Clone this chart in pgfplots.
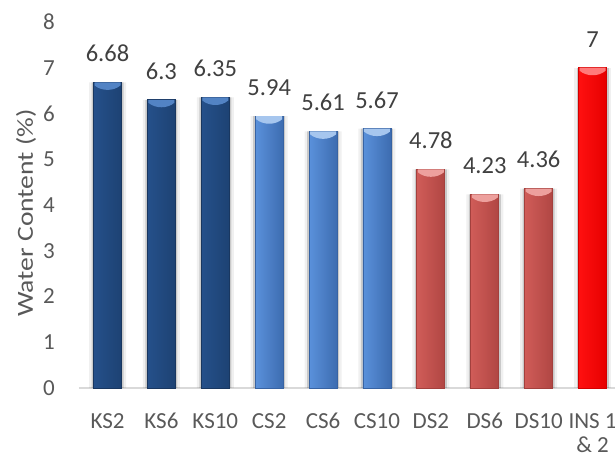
\documentclass[border=0pt]{standalone}
\usepackage{pgfplots}
\pgfplotsset{compat=1.18}
\usepackage{fontspec}
\setmainfont{Carlito}

\definecolor{tickgray}{HTML}{595959}
\definecolor{labelgray}{HTML}{404040}
\definecolor{basegray}{HTML}{D9D9D9}
% bar body colours (left / centre / right / outline) and lighter top caps
\definecolor{ksleft}{HTML}{25508A}
\definecolor{kscentre}{HTML}{234D84}
\definecolor{ksright}{HTML}{1D4273}
\definecolor{ksline}{HTML}{193760}
\definecolor{kscap}{HTML}{5283C4}
\definecolor{csleft}{HTML}{5A91DB}
\definecolor{cscentre}{HTML}{4C82CF}
\definecolor{csright}{HTML}{3D6CB0}
\definecolor{csline}{HTML}{3763A3}
\definecolor{cscap}{HTML}{A6C6EE}
\definecolor{dsleft}{HTML}{D05C58}
\definecolor{dscentre}{HTML}{C85552}
\definecolor{dsright}{HTML}{B04643}
\definecolor{dsline}{HTML}{A3403D}
\definecolor{dscap}{HTML}{EDA09D}
\definecolor{insleft}{HTML}{FF1010}
\definecolor{inscentre}{HTML}{FF0000}
\definecolor{insright}{HTML}{E60000}
\definecolor{insline}{HTML}{D40000}
\definecolor{inscap}{HTML}{FF7A7A}

% bevelled highlight on top of each bar
\pgfdeclareplotmark{cap}{%
  \pgfpathmoveto{\pgfpoint{-13bp}{0bp}}%
  \pgfpathlineto{\pgfpoint{13bp}{0bp}}%
  \pgfpathlineto{\pgfpoint{13bp}{-3bp}}%
  \pgfpathcurveto{\pgfpoint{6bp}{-9bp}}{\pgfpoint{-6bp}{-9bp}}{\pgfpoint{-13bp}{-3bp}}%
  \pgfpathclose
  \pgfusepathqfill
}

% water content per sample group
\pgfplotstableread{
x y
0 6.68
1 6.30
2 6.35
}\kstab
\pgfplotstableread{
x y
3 5.94
4 5.61
5 5.67
}\cstab
\pgfplotstableread{
x y
6 4.78
7 4.23
8 4.36
}\dstab
\pgfplotstableread{
x y
9 7.00
}\institab

\pgfplotsset{
  halo a/.style={ybar, bar shift=0pt, bar width=37bp, fill=black, draw=none, opacity=0.06},
  halo b/.style={ybar, bar shift=0pt, bar width=32bp, fill=black, draw=none, opacity=0.16},
  body/.style n args={4}{ybar, bar shift=0pt, bar width=28bp, draw=#4, line width=0.8bp,
    left color=#1, middle color=#2, right color=#3, nodes near coords},
  ks bar/.style={body={ksleft}{kscentre}{ksright}{ksline}},
  cs bar/.style={body={csleft}{cscentre}{csright}{csline}},
  ds bar/.style={body={dsleft}{dscentre}{dsright}{dsline}},
  ins bar/.style={body={insleft}{inscentre}{insright}{insline}},
}

\begin{document}
\begin{tikzpicture}
\begin{axis}[
  scale only axis,
  width=536bp, height=366bp,
  xmin=-0.529, xmax=9.416,
  ymin=0, ymax=8,
  ytick={0,...,8},
  xtick={0,...,9},
  xticklabels={KS2,KS6,KS10,CS2,CS6,CS10,DS2,DS6,DS10,{INS 1\\\& 2}},
  axis x line*=bottom,
  axis y line*=left,
  x axis line style={draw=basegray, line width=1.8bp, -},
  y axis line style={draw=none},
  major tick length=0pt,
  /pgf/number format/assume math mode=true,
  ticklabel style={text=tickgray, font=\fontsize{23bp}{24bp}\selectfont},
  yticklabel style={inner sep=0pt, xshift=-24bp},
  xticklabel style={inner sep=0pt, anchor=north, yshift=-25bp, align=center},
  ylabel={\scalebox{1.2}[1]{Water Content (\%)}},
  ylabel style={at={(axis description cs:0,0.5)}, anchor=center,
    yshift=53bp, xshift=-8bp, text=tickgray, font=\fontsize{23bp}{26bp}\selectfont},
  every node near coord/.append style={anchor=south, inner sep=0pt,
    yshift=20bp, text=labelgray, font=\fontsize{24.5bp}{28bp}\selectfont},
  clip=false,
]
% soft shadow behind the bars
\addplot[halo a] table[x=x,y=y] {\kstab};
\addplot[halo b] table[x=x,y=y] {\kstab};
\addplot[halo a] table[x=x,y=y] {\cstab};
\addplot[halo b] table[x=x,y=y] {\cstab};
\addplot[halo a] table[x=x,y=y] {\dstab};
\addplot[halo b] table[x=x,y=y] {\dstab};
\addplot[halo a] table[x=x,y=y] {\institab};
\addplot[halo b] table[x=x,y=y] {\institab};
% one plot per bar so each bar gets its own cylinder shading
\addplot[ks bar] coordinates {(0,6.68)};
\addplot[ks bar] coordinates {(1,6.30)};
\addplot[ks bar] coordinates {(2,6.35)};
\addplot[cs bar] coordinates {(3,5.94)};
\addplot[cs bar] coordinates {(4,5.61)};
\addplot[cs bar] coordinates {(5,5.67)};
\addplot[ds bar] coordinates {(6,4.78)};
\addplot[ds bar] coordinates {(7,4.23)};
\addplot[ds bar] coordinates {(8,4.36)};
\addplot[ins bar] coordinates {(9,7.00)};
% top highlights
\addplot[only marks, mark=cap, color=kscap] table[x=x,y=y] {\kstab};
\addplot[only marks, mark=cap, color=cscap] table[x=x,y=y] {\cstab};
\addplot[only marks, mark=cap, color=dscap] table[x=x,y=y] {\dstab};
\addplot[only marks, mark=cap, color=inscap] table[x=x,y=y] {\institab};
\end{axis}
\pgfresetboundingbox
\useasboundingbox (-79bp,-67bp) rectangle (536bp,388bp);
\end{tikzpicture}
\end{document}
